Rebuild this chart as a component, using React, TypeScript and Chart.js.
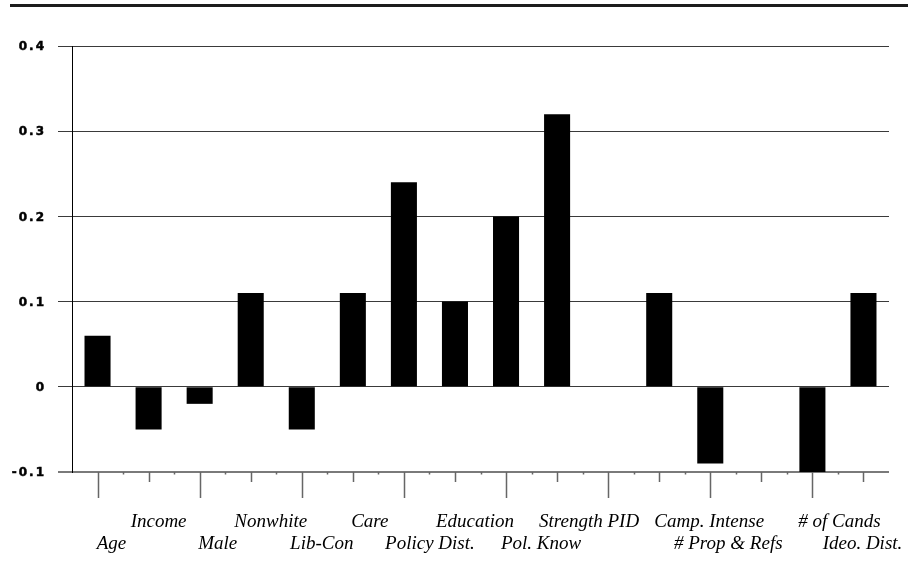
import { useEffect, useRef } from 'react';
import { Chart, registerables } from 'chart.js';

Chart.register(...registerables);

// ---- data ----
const categories = [
  'Age', 'Income', 'Male', 'Nonwhite', 'Lib-Con', 'Care', 'Policy Dist.', 'Education',
  'Pol. Know', 'Strength PID', '', 'Camp. Intense', '# Prop & Refs', '', '# of Cands', 'Ideo. Dist.',
];
const effects = [
  0.06, -0.05, -0.02, 0.11, -0.05, 0.11, 0.24, 0.10,
  0.20, 0.32, 0, 0.11, -0.09, 0, -0.10, 0.11,
];
const yTickValues = [-0.1, 0, 0.1, 0.2, 0.3, 0.4];
const yTickLabels = ['-0.1', '0', '0.1', '0.2', '0.3', '0.4'];

// ---- layout (label rows: 0 = upper, 1 = lower; horizontal nudges in px) ----
const LABEL_ROW = [1, 0, 1, 0, 1, 0, 1, 0, 1, 0, 1, 0, 1, 1, 0, 1];
const LABEL_NUDGE = [14, 10, 18, 20, 20, 17, 26, 20, 35, 32, 0, 50, 18, 0, 27, -1];

const overlay = {
  id: 'overlay',
  afterDraw(chart: any) {
    const { ctx, chartArea } = chart;
    const xs = chart.scales.x;
    const ys = chart.scales.y;
    ctx.save();
    // top rule
    ctx.fillStyle = '#1c1c1c';
    ctx.fillRect(10, 4, chart.width - 10, 3);

    // y tick labels
    ctx.font = 'bold 12px "DejaVu Sans"';
    ctx.letterSpacing = '2px';
    ctx.fillStyle = '#000';
    ctx.strokeStyle = '#000';
    ctx.lineWidth = 0.5;
    ctx.textAlign = 'right';
    ctx.textBaseline = 'middle';
    yTickValues.forEach((v, i) => {
      const py = ys.getPixelForValue(v) + 1;
      ctx.fillText(yTickLabels[i], chartArea.left - 26, py);
      ctx.strokeText(yTickLabels[i], chartArea.left - 26, py);
    });
    ctx.letterSpacing = '0px';

    // x tick marks
    const n = categories.length;
    const step = (chartArea.right - chartArea.left) / n;
    ctx.strokeStyle = '#666';
    ctx.lineWidth = 1.5;
    ctx.beginPath();
    for (let i = 0; i < n; i++) {
      const cx = Math.round(xs.getPixelForValue(i)) + 0.5;
      const len = i % 2 === 0 ? 26 : 10;
      ctx.moveTo(cx, chartArea.bottom);
      ctx.lineTo(cx, chartArea.bottom + len);
    }
    for (let i = 1; i < n; i++) {
      const bx = Math.round(chartArea.left + i * step) + 0.5;
      ctx.moveTo(bx, chartArea.bottom);
      ctx.lineTo(bx, chartArea.bottom + 2.5);
    }
    ctx.stroke();

    // category labels
    ctx.font = 'italic 19px "Liberation Serif"';
    ctx.fillStyle = '#000';
    ctx.textAlign = 'center';
    ctx.textBaseline = 'alphabetic';
    categories.forEach((c, i) => {
      if (!c) return;
      const px = xs.getPixelForValue(i) + LABEL_NUDGE[i];
      const py = chartArea.bottom + (LABEL_ROW[i] ? 77 : 55);
      ctx.fillText(c, px, py);
    });
    ctx.restore();
  },
};

export default function App() {
  const ref = useRef<HTMLCanvasElement | null>(null);
  useEffect(() => {
    if (!ref.current) return;
    const chart = new Chart(ref.current, {
      type: 'bar',
      data: {
        labels: categories,
        datasets: [
          {
            data: effects,
            backgroundColor: '#000',
            borderWidth: 0,
            barPercentage: 0.51,
            categoryPercentage: 1,
          },
        ],
      },
      options: {
        animation: false,
        responsive: false,
        events: [],
        layout: { padding: { top: 46, right: 19, left: 0, bottom: 0 } },
        plugins: { legend: { display: false }, tooltip: { enabled: false } },
        scales: {
          x: {
            offset: true,
            grid: { display: false },
            border: { display: false },
            ticks: { display: false },
            afterFit: (s: any) => {
              s.height = 112;
            },
          },
          y: {
            min: -0.1,
            max: 0.4,
            ticks: { display: false, stepSize: 0.1 },
            grid: {
              drawTicks: true,
              tickLength: 14,
              color: (c: any) => (c.index === 0 ? '#7a7a7a' : '#3a3a3a'),
              tickColor: (c: any) => (c.index === 0 ? '#7a7a7a' : '#3a3a3a'),
              lineWidth: (c: any) => (c.index === 0 ? 2 : 1),
            },
            border: { display: true, color: '#000', width: 1 },
            afterFit: (s: any) => {
              s.width = 72;
            },
          },
        },
      },
      plugins: [overlay],
    });
    return () => chart.destroy();
  }, []);
  return (
    <div style={{ position: 'absolute', left: 0, top: 0, width: 908, height: 584, background: '#fff' }}>
      <canvas ref={ref} width={908} height={584} style={{ display: 'block' }} />
    </div>
  );
}
